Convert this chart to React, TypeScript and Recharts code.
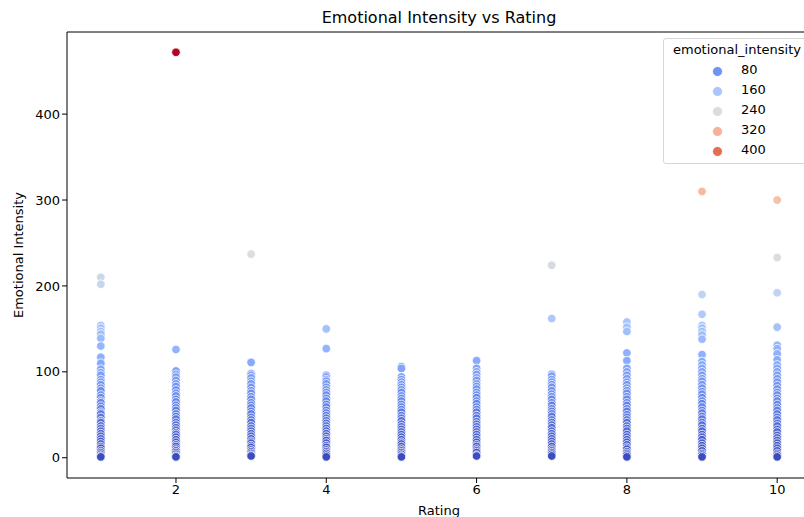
import { ScatterChart, Scatter, XAxis, YAxis, ReferenceLine } from 'recharts'

// emotional intensity readings, grouped by rating
const rating1 = [210, 202, 154, 151, 147, 144, 139, 130, 117, 110, 103, 99, 96, 91, 88, 85, 81, 78, 73, 70, 66, 64, 60, 57, 53, 51, 47, 43, 41, 37, 34, 31, 28, 25, 22, 19, 16, 13, 11, 8, 6, 4, 2, 1]
const rating2 = [472, 126, 101, 97, 94, 90, 86, 83, 79, 75, 72, 68, 65, 61, 58, 55, 51, 48, 45, 41, 38, 35, 32, 29, 27, 24, 21, 18, 15, 13, 10, 8, 6, 4, 2, 1]
const rating3 = [237, 111, 98, 96, 93, 89, 86, 82, 78, 75, 71, 68, 64, 61, 58, 54, 51, 47, 44, 41, 37, 34, 31, 28, 25, 22, 19, 17, 14, 12, 9, 7, 5, 3, 2]
const rating4 = [150, 127, 96, 94, 91, 89, 86, 82, 79, 76, 73, 69, 66, 62, 59, 55, 52, 49, 46, 43, 40, 37, 34, 31, 28, 25, 22, 20, 17, 14, 12, 9, 7, 5, 3, 1]
const rating5 = [106, 104, 94, 91, 88, 85, 82, 79, 76, 72, 69, 66, 62, 59, 56, 53, 49, 46, 43, 39, 36, 33, 30, 27, 24, 21, 18, 16, 13, 10, 8, 6, 4, 2, 1]
const rating6 = [113, 104, 100, 97, 93, 90, 86, 83, 80, 76, 73, 70, 66, 63, 59, 56, 53, 49, 46, 42, 39, 36, 33, 30, 27, 24, 21, 18, 15, 13, 10, 8, 6, 3, 2]
const rating7 = [224, 162, 97, 95, 91, 88, 85, 82, 78, 74, 71, 68, 64, 61, 57, 54, 51, 48, 44, 41, 38, 35, 31, 28, 25, 22, 19, 16, 13, 10, 8, 6, 4, 2]
const rating8 = [158, 152, 147, 122, 113, 104, 100, 96, 92, 88, 85, 81, 78, 75, 71, 68, 64, 61, 57, 54, 50, 47, 44, 41, 37, 34, 31, 27, 24, 21, 18, 15, 12, 10, 7, 5, 3, 1]
const rating9 = [310, 190, 167, 154, 151, 147, 143, 138, 120, 112, 108, 104, 100, 96, 92, 89, 85, 81, 77, 74, 70, 66, 63, 59, 55, 52, 48, 45, 41, 38, 34, 31, 27, 24, 21, 17, 14, 11, 8, 5, 3, 1]
const rating10 = [300, 233, 192, 152, 131, 127, 121, 114, 108, 104, 100, 96, 92, 88, 84, 80, 76, 73, 69, 66, 62, 58, 55, 51, 47, 44, 40, 37, 33, 30, 26, 23, 20, 17, 14, 11, 8, 5, 3, 1]

const byRating: number[][] = [rating1, rating2, rating3, rating4, rating5, rating6, rating7, rating8, rating9, rating10]

const X_TICKS = [2, 4, 6, 8, 10]
const Y_TICKS = [0, 100, 200, 300, 400]
const LEGEND_LEVELS = [80, 160, 240, 320, 400]

const X_DOMAIN: [number, number] = [0.55, 10.45]
const Y_DOMAIN: [number, number] = [-23.6, 495.6]

interface Point {
  rating: number
  intensity: number
}

const data: Point[] = byRating.flatMap((vals, i) => vals.map((v) => ({ rating: i + 1, intensity: v })))

const allValues = data.map((d) => d.intensity)
const HUE_MIN = Math.min(...allValues)
const HUE_MAX = Math.max(...allValues)

// matplotlib coolwarm, sampled at 9 stops
const COOLWARM: [number, number, number][] = [
  [59, 76, 192],
  [98, 130, 234],
  [141, 176, 254],
  [184, 208, 249],
  [221, 221, 221],
  [245, 196, 173],
  [244, 154, 123],
  [222, 96, 77],
  [180, 4, 38],
]

function coolwarm(v: number) {
  const t = Math.max(0, Math.min(1, (v - HUE_MIN) / (HUE_MAX - HUE_MIN)))
  const pos = t * (COOLWARM.length - 1)
  const i = Math.min(Math.floor(pos), COOLWARM.length - 2)
  const f = pos - i
  const a = COOLWARM[i]
  const b = COOLWARM[i + 1]
  const c = a.map((x, k) => Math.round(x + (b[k] - x) * f))
  return `rgb(${c[0]},${c[1]},${c[2]})`
}

const FONT = '"DejaVu Sans", sans-serif'

function Dot(props: any) {
  const { cx, cy, payload } = props
  if (cx == null || cy == null) return null
  return <circle cx={cx} cy={cy} r={4.3} fill={coolwarm(payload.intensity)} stroke="#fff" strokeWidth={0.8} />
}

export default function App() {
  return (
    <div
      style={{
        position: 'fixed',
        left: 0,
        top: 0,
        width: 804,
        height: 517,
        overflow: 'hidden',
        background: '#fff',
        fontFamily: FONT,
      }}
    >
      <div
        style={{
          position: 'absolute',
          left: 67,
          width: 744,
          top: 8,
          textAlign: 'center',
          fontSize: 16,
          color: '#000',
        }}
      >
        Emotional Intensity vs Rating
      </div>

      <ScatterChart width={820} height={517} margin={{ top: 32, right: 9, bottom: 0, left: 0 }}>
        <XAxis
          type="number"
          dataKey="rating"
          domain={X_DOMAIN}
          ticks={X_TICKS}
          allowDataOverflow
          height={39}
          tickSize={5}
          axisLine={{ stroke: '#000' }}
          tickLine={{ stroke: '#000' }}
          tick={{ fill: '#000', fontSize: 13, fontFamily: FONT }}
          label={{
            content: () => (
              <text x={439} y={515} textAnchor="middle" fontSize={13} fontFamily={FONT} fill="#000">
                Rating
              </text>
            ),
          }}
        />
        <YAxis
          type="number"
          dataKey="intensity"
          domain={Y_DOMAIN}
          ticks={Y_TICKS}
          allowDataOverflow
          width={67}
          tickSize={5}
          axisLine={{ stroke: '#000' }}
          tickLine={{ stroke: '#000' }}
          tick={{ fill: '#000', fontSize: 13, fontFamily: FONT }}
          label={{
            content: () => (
              <text
                x={18}
                y={255}
                transform="rotate(-90 18 255)"
                textAnchor="middle"
                dominantBaseline="central"
                fontSize={13}
                fontFamily={FONT}
                fill="#000"
              >
                Emotional Intensity
              </text>
            ),
          }}
        />
        <ReferenceLine y={Y_DOMAIN[1]} stroke="#000" ifOverflow="visible" />
        <ReferenceLine x={X_DOMAIN[1]} stroke="#000" ifOverflow="visible" />
        <Scatter data={data} shape={Dot} isAnimationActive={false} />
      </ScatterChart>

      <div
        style={{
          position: 'absolute',
          left: 663,
          top: 38,
          width: 150,
          height: 124,
          border: '1px solid #d6d6d6',
          borderRadius: 3,
          background: 'rgba(255,255,255,0.8)',
          fontSize: 13,
          color: '#000',
        }}
      >
        <div style={{ position: 'absolute', left: 9, top: 3 }}>emotional_intensity</div>
        {LEGEND_LEVELS.map((lv, i) => (
          <div key={lv} style={{ position: 'absolute', left: 0, top: 23 + i * 20, height: 18, width: 150 }}>
            <span
              style={{
                position: 'absolute',
                left: 48,
                top: 4,
                width: 9,
                height: 9,
                borderRadius: '50%',
                background: coolwarm(lv),
                border: '0.8px solid #fff',
              }}
            />
            <span style={{ position: 'absolute', left: 77, top: 0 }}>{lv}</span>
          </div>
        ))}
      </div>
    </div>
  )
}
